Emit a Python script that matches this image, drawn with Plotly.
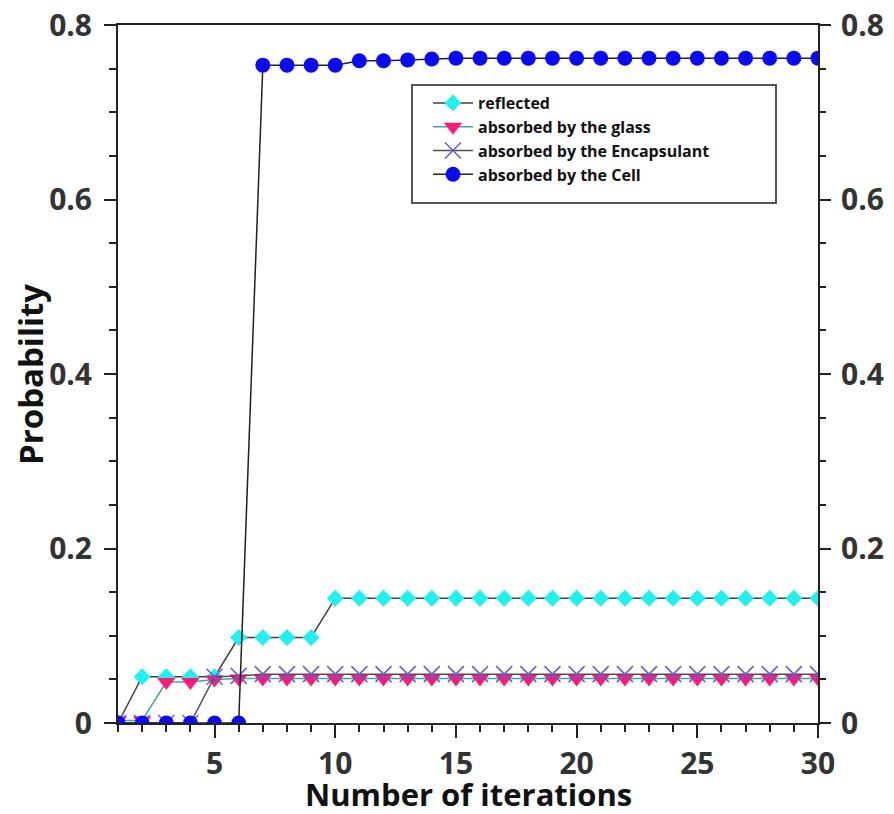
import plotly.graph_objects as go

iterations = list(range(1, 31))
reflected = [0.0, 0.053, 0.053, 0.053, 0.053, 0.098, 0.098, 0.098, 0.098] + [0.143] * 21
glass = [0.003, 0.003, 0.047, 0.047, 0.050, 0.051, 0.051, 0.051, 0.051, 0.051] + [0.051] * 20
encapsulant = [0.0, 0.0, 0.0, 0.0, 0.053, 0.054] + [0.056] * 24
cell = [0.0] * 6 + [0.754, 0.754, 0.754, 0.754, 0.759, 0.759, 0.760, 0.761] + [0.762] * 16

y_ticks = [0, 0.2, 0.4, 0.6, 0.8]
y_ticktext = ["0", "0.2", "0.4", "0.6", "0.8"]
x_ticks = [5, 10, 15, 20, 25, 30]
x_title = "Number of iterations"
y_title = "Probability"

FONT = "Open Sans"
fig = go.Figure()

fig.add_trace(go.Scatter(
    x=iterations, y=reflected, name="reflected", mode="lines+markers",
    line=dict(color="#404040", width=1.5),
    marker=dict(symbol="diamond", size=13, color="#1ff0f0", line=dict(width=0)),
))
fig.add_trace(go.Scatter(
    x=iterations, y=glass, name="absorbed by the glass", mode="lines+markers",
    line=dict(color="#3aaa98", width=1.5),
    marker=dict(symbol="triangle-down", size=16, color="#ff1a78", line=dict(width=0)),
))
fig.add_trace(go.Scatter(
    x=iterations, y=encapsulant, name="absorbed by the Encapsulant", mode="lines+markers",
    line=dict(color="#505050", width=1.5),
    marker=dict(symbol="x-thin", size=16, color="#6a5acd", line=dict(width=1.5, color="#6a5acd")),
))
fig.add_trace(go.Scatter(
    x=iterations, y=cell, name="absorbed by the Cell", mode="lines+markers",
    line=dict(color="#202020", width=1.5),
    marker=dict(symbol="circle", size=15, color="#0a0af5", line=dict(width=0)),
))
# invisible trace to activate right axis
fig.add_trace(go.Scatter(x=[1], y=[0], yaxis="y2", showlegend=False,
                         mode="markers", marker=dict(opacity=0), hoverinfo="skip"))

tickfont = dict(family=FONT, size=30, color="#333333", weight="bold")

# the page places the figure 8px from the window corner
W, H = 886, 806
L, R, T, B = 110, 76, 17, 91
SX0, SX1, SY0, SY1 = 118, 818, 25, 723  # plot area in window pixels

def px_x(p):
    return (p - SX0) / (SX1 - SX0)

def px_y(p):
    return (SY1 - p) / (SY1 - SY0)

fig.update_layout(
    width=W, height=H,
    margin=dict(l=L, r=R, t=T, b=B, autoexpand=False),
    paper_bgcolor="white", plot_bgcolor="white",
    showlegend=True,
    legend=dict(
        x=px_x(428), y=px_y(86), xanchor="left", yanchor="top",
        bgcolor="rgba(0,0,0,0)", borderwidth=0,
        font=dict(family=FONT, size=16, color="#111111", weight="bold"),
        tracegroupgap=0, itemwidth=40,
    ),
    shapes=[dict(
        type="rect", xref="paper", yref="paper",
        x0=px_x(412), x1=px_x(776), y0=px_y(203), y1=px_y(85),
        line=dict(color="#555555", width=2), fillcolor="rgba(0,0,0,0)", layer="below",
    )],
    annotations=[
        dict(text=x_title, xref="paper", yref="paper", x=0.5, y=px_y(794),
             xanchor="center", yanchor="middle", showarrow=False,
             font=dict(family=FONT, size=31, color="#111111", weight="bold")),
        dict(text=y_title, xref="paper", yref="paper", x=px_x(30), y=px_y(375),
             xanchor="center", yanchor="middle", showarrow=False, textangle=-90,
             font=dict(family=FONT, size=33, color="#111111", weight="bold")),
    ],
    xaxis=dict(
        range=[1, 30], tickvals=x_ticks, ticks="outside", ticklen=13, tickwidth=2,
        tickcolor="#222222", showline=True, linecolor="#222222", linewidth=2,
        mirror=True, showgrid=False, zeroline=False, tickfont=tickfont, automargin=False,
        ticklabeloverflow="allow",
        minor=dict(dtick=1, tick0=1, ticks="outside", ticklen=7, tickwidth=2, tickcolor="#222222", showgrid=False),
    ),
    yaxis=dict(
        range=[0, 0.8], tickvals=y_ticks, ticktext=y_ticktext, ticks="outside", ticklen=12, tickwidth=2,
        tickcolor="#222222", showline=True, linecolor="#222222", linewidth=2,
        mirror=True, showgrid=False, zeroline=False, tickfont=tickfont, automargin=False,
        ticklabelstandoff=6, ticklabeloverflow="allow",
        minor=dict(dtick=0.05, tick0=0, ticks="outside", ticklen=7, tickwidth=2, tickcolor="#222222", showgrid=False),
    ),
    yaxis2=dict(
        range=[0, 0.8], tickvals=y_ticks, ticktext=y_ticktext, ticks="outside", ticklen=12, tickwidth=2,
        tickcolor="#222222", overlaying="y", side="right", showline=False,
        showgrid=False, zeroline=False, tickfont=tickfont, automargin=False,
        ticklabelstandoff=4, ticklabeloverflow="allow",
        minor=dict(dtick=0.05, tick0=0, ticks="outside", ticklen=7, tickwidth=2, tickcolor="#222222", showgrid=False),
    ),
)

fig.write_html("out.html")
